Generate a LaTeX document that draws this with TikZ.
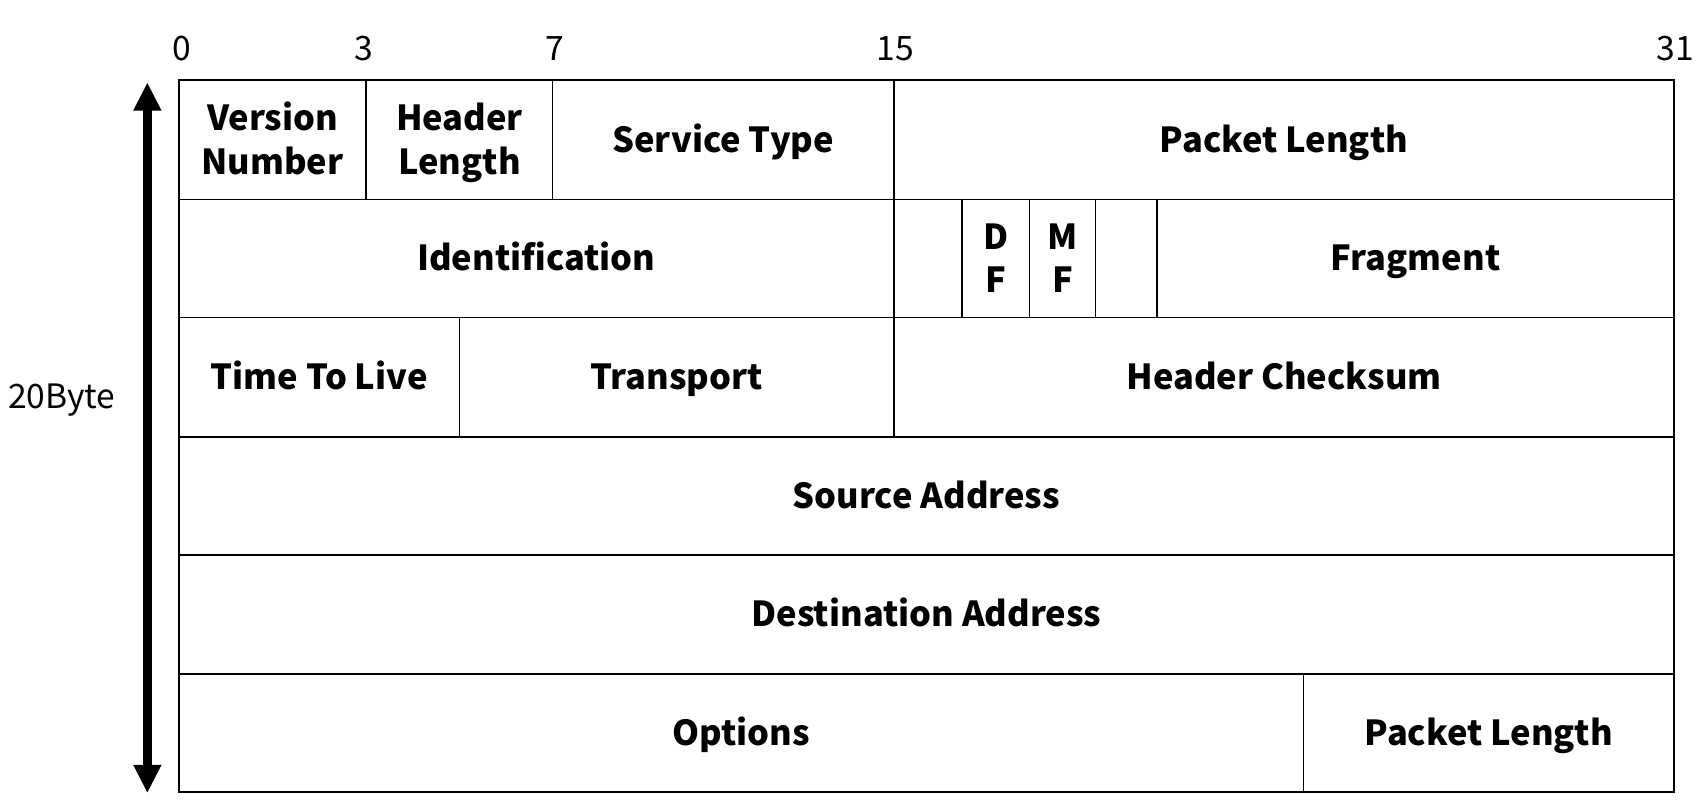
\documentclass[tikz,border=0pt]{standalone}
\usepackage{fontspec}
\setmainfont{Noto Sans CJK KR}
\usetikzlibrary{arrows.meta}

% strut that centres capital letters on a line
\newcommand\capstrut{\rule[-4pt]{0pt}{19.6pt}}

% a header field: name, left, top, right, bottom, label
\newcommand\fieldbox[6]{%
  \pgfmathsetmacro\fw{(#4-#2)*0.5}%
  \pgfmathsetmacro\fh{(#5-#3)*0.5}%
  \node[field, minimum width=\fw pt, minimum height=\fh pt] (#1) at ({(#2+#4)/2},{(#3+#5)/2}) {#6};%
}

\begin{document}
\begin{tikzpicture}[x=0.5pt, y=-0.5pt,
  field/.style={draw, line width=0.8pt, inner sep=0pt, align=center,
    font=\fontsize{15.9}{20}\selectfont\bfseries},
  bitlabel/.style={inner sep=0pt, font=\fontsize{15.5}{18}\selectfont},
  sizelabel/.style={inner sep=0pt, font=\fontsize{15.5}{18}\selectfont},
  bigarrow/.style={line width=4pt, {Triangle[width=12pt,length=13pt]}-{Triangle[width=12pt,length=13pt]}}]
  \useasboundingbox (0,0) rectangle (1568,749);

  % bit positions
  \node[bitlabel] (b0)  at (168,44)  {0\capstrut};
  \node[bitlabel] (b3)  at (336,44)  {3\capstrut};
  \node[bitlabel] (b7)  at (512,44)  {7\capstrut};
  \node[bitlabel] (b15) at (826,44)  {15\capstrut};
  \node[bitlabel] (b31) at (1546,44) {31\capstrut};

  % row 1
  \fieldbox{ver}{165}{74}{338}{184}{Version\capstrut\\Number\capstrut}
  \fieldbox{ihl}{338}{74}{510}{184}{Header\capstrut\\Length\capstrut}
  \fieldbox{tos}{510}{74}{825}{184}{Service Type\capstrut}
  \fieldbox{len}{825}{74}{1545}{184}{Packet Length\capstrut}
  % row 2
  \fieldbox{ident}{165}{184}{825}{293}{Identification\capstrut}
  \fieldbox{rsv}{825}{184}{888}{293}{}
  \fieldbox{df}{888}{184}{950}{293}{D\capstrut\\F\capstrut}
  \fieldbox{mf}{950}{184}{1011}{293}{M\capstrut\\F\capstrut}
  \fieldbox{gap}{1011}{184}{1068}{293}{}
  \fieldbox{frag}{1068}{184}{1545}{293}{Fragment\capstrut}
  % row 3
  \fieldbox{ttl}{165}{293}{424}{403}{Time To Live\capstrut}
  \fieldbox{proto}{424}{293}{825}{403}{Transport\capstrut}
  \fieldbox{csum}{825}{293}{1545}{403}{Header Checksum\capstrut}
  % rows 4 and 5
  \fieldbox{src}{165}{403}{1545}{512}{Source Address\capstrut}
  \fieldbox{dst}{165}{512}{1545}{622}{Destination Address\capstrut}
  % row 6
  \fieldbox{opt}{165}{622}{1203}{731}{Options\capstrut}
  \fieldbox{pad}{1203}{622}{1545}{731}{Packet Length\capstrut}

  % header size
  \coordinate (atop) at (136,76);
  \coordinate (abot) at (136,732);
  \draw[bigarrow] (atop) -- (abot);
  \node[sizelabel] (size) at (57,365) {20Byte\capstrut};
\end{tikzpicture}
\end{document}
